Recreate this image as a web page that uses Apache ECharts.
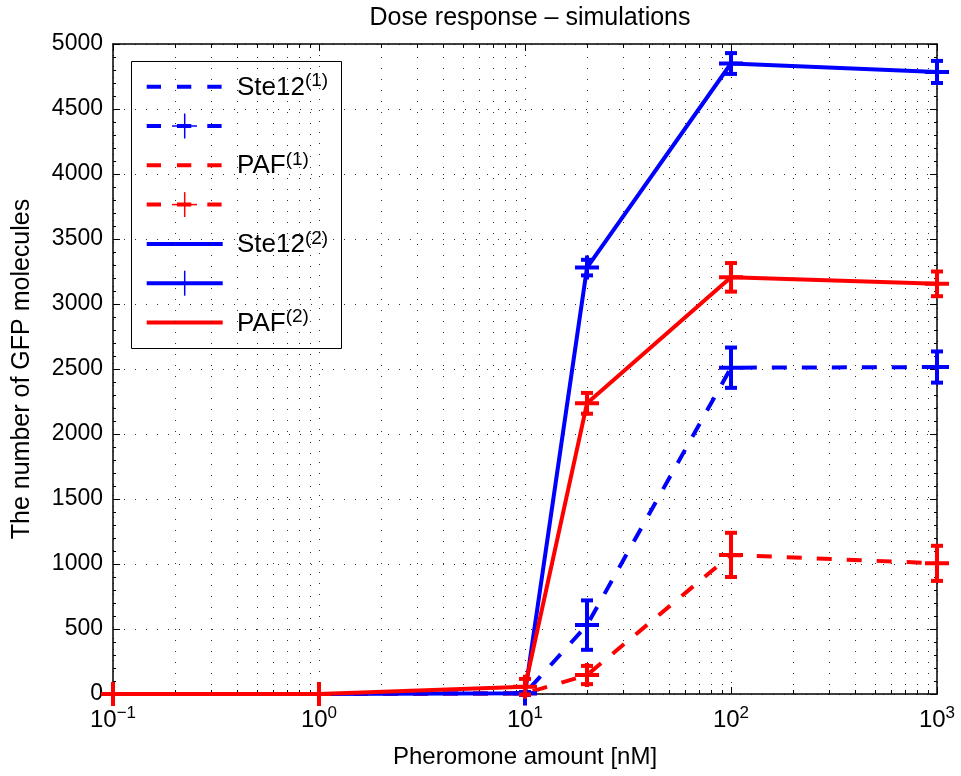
<!DOCTYPE html>
<html>
<head>
<meta charset="utf-8">
<script src="https://cdn.jsdelivr.net/npm/echarts@6/dist/echarts.min.js"></script>
<style>
html,body{margin:0;padding:0;background:#fff;}
#chart{width:961px;height:776px;}
</style>
</head>
<body>
<div id="chart"></div>
<script>
// ---- data ----
const titleText = 'Dose response \u2013 simulations';
const xAxisName = 'Pheromone amount [nM]';
const yAxisName = 'The number of GFP molecules';
const xValues = [0.1, 1, 10, 20, 100, 1000];
const ste12_1 = [0, 0, 5, 530, 2510, 2515];
const ste12_1Err = [0, 0, 10, 190, 155, 120];
const paf_1 = [0, 0, 5, 146, 1070, 1005];
const paf_1Err = [0, 0, 10, 70, 170, 135];
const ste12_2 = [0, 0, 5, 3280, 4850, 4785];
const ste12_2Err = [0, 0, 10, 60, 80, 85];
const paf_2 = [0, 0, 56, 2236, 3205, 3155];
const paf_2Err = [0, 0, 60, 80, 110, 95];
const xMinorTicks = [0.2,0.3,0.4,0.5,0.6,0.7,0.8,0.9, 2,3,4,5,6,7,8,9, 20,30,40,50,60,70,80,90, 200,300,400,500,600,700,800,900];
const legendEntries = [
  {main: 'Ste12', sup: '(1)', color: '#0000ff', dashed: true, plus: false},
  {main: '', sup: '', color: '#0000ff', dashed: true, plus: true},
  {main: 'PAF', sup: '(1)', color: '#ff0000', dashed: true, plus: false},
  {main: '', sup: '', color: '#ff0000', dashed: true, plus: true},
  {main: 'Ste12', sup: '(2)', color: '#0000ff', dashed: false, plus: false},
  {main: '', sup: '', color: '#0000ff', dashed: false, plus: true},
  {main: 'PAF', sup: '(2)', color: '#ff0000', dashed: false, plus: false}
];

const FONT = 'Liberation Sans, Arial, sans-serif';
const DASH = [15, 15];
const LW = 4;
const PLUS = 'path://M10,0H14V24H10ZM0,10H24V14H0Z';

function errRender(color) {
  return function (params, api) {
    const x = api.value(0), y = api.value(1), e = api.value(2);
    const c = api.coord([x, y]);
    const top = api.coord([x, y + e])[1];
    const bot = api.coord([x, y - e])[1];
    const cx = c[0];
    const st = () => ({stroke: color, lineWidth: LW, fill: null});
    return {type: 'group', children: [
      {type: 'polyline', shape: {points: [[cx - 6, top], [cx + 6, top]]}, style: st()},
      {type: 'polyline', shape: {points: [[cx, top], [cx, bot]]}, style: st()},
      {type: 'polyline', shape: {points: [[cx - 6, bot], [cx + 6, bot]]}, style: st()}
    ]};
  };
}

function gridRender(params, api) {
  const v = api.value(0);
  const c = api.coord([v, 0]);
  const cs = params.coordSys;
  const px = Math.round(c[0]) + 0.5;
  return {type: 'group', children: [
    {type: 'line', shape: {x1: px, y1: cs.y + 2, x2: px, y2: cs.y + cs.height}, style: {stroke: '#333', lineWidth: 1, lineDash: [1, 10]}},
    {type: 'line', shape: {x1: px, y1: cs.y + cs.height, x2: px, y2: cs.y + cs.height - 4}, style: {stroke: '#000', lineWidth: 1}},
    {type: 'line', shape: {x1: px, y1: cs.y, x2: px, y2: cs.y + 4}, style: {stroke: '#000', lineWidth: 1}}
  ]};
}

const sets = [
  {vals: ste12_1, err: ste12_1Err, color: '#0000ff', dashed: true},
  {vals: paf_1, err: paf_1Err, color: '#ff0000', dashed: true},
  {vals: ste12_2, err: ste12_2Err, color: '#0000ff', dashed: false},
  {vals: paf_2, err: paf_2Err, color: '#ff0000', dashed: false}
];

const series = [{
  type: 'custom', name: 'grid', silent: true, z: 1,
  data: xMinorTicks.map(v => [v, 0]),
  encode: {x: 0, y: 1},
  renderItem: gridRender
}];
sets.forEach((s, k) => {
  series.push({
    type: 'line', name: 'line' + k, z: 2 + k,
    data: xValues.map((x, i) => [x, s.vals[i]]),
    symbol: PLUS, symbolSize: 24, showSymbol: true, showAllSymbol: true, clip: false,
    itemStyle: {color: s.color, borderWidth: 0},
    lineStyle: {color: s.color, width: LW, type: s.dashed ? DASH : 'solid', cap: 'butt'}
  });
  series.push({
    type: 'custom', name: 'err' + k, z: 2 + k, clip: false,
    data: xValues.map((x, i) => [x, s.vals[i], s.err[i]]),
    dimensions: ['x', 'y', 'e'],
    encode: {x: 0, y: 1},
    renderItem: errRender(s.color)
  });
});

// legend drawn as graphic
const legendX = 131, legendY = 61, legendW = 210, legendH = 287;
const rowY0 = 86.7, rowStep = 39.3;
const legendChildren = [{
  type: 'rect', shape: {x: legendX + 0.5, y: legendY + 0.5, width: legendW, height: legendH},
  style: {fill: '#fff', stroke: '#000', lineWidth: 1}
}];
legendEntries.forEach((e, i) => {
  const y = rowY0 + i * rowStep;
  legendChildren.push({type: 'line', shape: {x1: 146.7, y1: y, x2: 222.7, y2: y},
    style: {stroke: e.color, lineWidth: LW, lineDash: e.dashed ? [14.3, 16] : null}});
  if (e.plus) {
    legendChildren.push({type: 'line', shape: {x1: 184.7, y1: y - 12.5, x2: 184.7, y2: y + 12.5}, style: {stroke: e.color, lineWidth: 1.5}});
    legendChildren.push({type: 'line', shape: {x1: 172, y1: y, x2: 197, y2: y}, style: {stroke: e.color, lineWidth: 1.5}});
  }
  if (e.main) {
    legendChildren.push({type: 'text', style: {
      x: 237, y: y + 1, verticalAlign: 'middle', align: 'left',
      text: '{m|' + e.main + '}{s|' + e.sup + '}',
      rich: {
        m: {fontSize: 26, fontFamily: FONT, fill: '#000', lineHeight: 32},
        s: {fontSize: 19, fontFamily: FONT, fill: '#000', lineHeight: 19, verticalAlign: 'top'}
      }
    }});
  }
});

const supRich = {
  b: {fontSize: 24, fontFamily: FONT, color: '#000', lineHeight: 30},
  s: {fontSize: 17, fontFamily: FONT, color: '#000', lineHeight: 17, verticalAlign: 'top'}
};

const option = {
  animation: false,
  backgroundColor: '#fff',
  title: {
    text: titleText, left: 525, top: 1, textAlign: 'center',
    textStyle: {fontSize: 25, fontWeight: 'normal', fontFamily: FONT, color: '#000'}
  },
  grid: {left: 113, right: 24, top: 44, bottom: 82, containLabel: false},
  xAxis: [{
    type: 'log', logBase: 10, min: 0.1, max: 1000, position: 'bottom',
    axisLine: {show: true, onZero: false, lineStyle: {color: '#000', width: 1.5}},
    axisTick: {show: true, inside: true, length: 7, lineStyle: {color: '#000', width: 1}},
    axisLabel: {
      margin: 11, color: '#000',
      formatter: function (v) {
        const ex = Math.round(Math.log10(v));
        return '{b|10}{s|' + (ex < 0 ? '\u2212' + (-ex) : ex) + '}';
      },
      rich: supRich
    },
    splitLine: {show: true, lineStyle: {color: '#333', width: 1, type: [1, 10]}},
    name: xAxisName, nameLocation: 'middle', nameGap: 51,
    nameTextStyle: {fontSize: 24, fontFamily: FONT, color: '#000'}
  }, {
    type: 'log', logBase: 10, min: 0.1, max: 1000, position: 'top',
    axisLine: {show: true, onZero: false, lineStyle: {color: '#000', width: 1.5}},
    axisTick: {show: true, inside: true, length: 7, lineStyle: {color: '#000', width: 1}},
    axisLabel: {show: false}, splitLine: {show: false}
  }],
  yAxis: [{
    type: 'value', min: 0, max: 5000, interval: 500, position: 'left',
    axisLine: {show: true, onZero: false, lineStyle: {color: '#000', width: 1.5}},
    axisTick: {show: true, inside: true, length: 7, lineStyle: {color: '#000', width: 1}},
    minorTick: {show: true, splitNumber: 5, length: 3, lineStyle: {color: '#000', width: 1}},
    axisLabel: {margin: 10, fontSize: 23, fontFamily: FONT, color: '#000', formatter: v => String(v)},
    splitLine: {show: true, lineStyle: {color: '#333', width: 1, type: [1, 10]}},
    name: yAxisName, nameLocation: 'middle', nameGap: 78, nameRotate: 90,
    nameTextStyle: {fontSize: 25, fontFamily: FONT, color: '#000'}
  }, {
    type: 'value', min: 0, max: 5000, interval: 500, position: 'right',
    axisLine: {show: true, onZero: false, lineStyle: {color: '#000', width: 1.5}},
    axisTick: {show: true, inside: true, length: 7, lineStyle: {color: '#000', width: 1}},
    minorTick: {show: true, splitNumber: 5, length: 3, lineStyle: {color: '#000', width: 1}},
    axisLabel: {show: false}, splitLine: {show: false}
  }],
  series: series,
  graphic: [{type: 'group', z: 100, children: legendChildren}]
};

const chart = echarts.init(document.getElementById('chart'), null, {renderer: 'canvas'});
chart.setOption(option);
</script>
</body>
</html>
